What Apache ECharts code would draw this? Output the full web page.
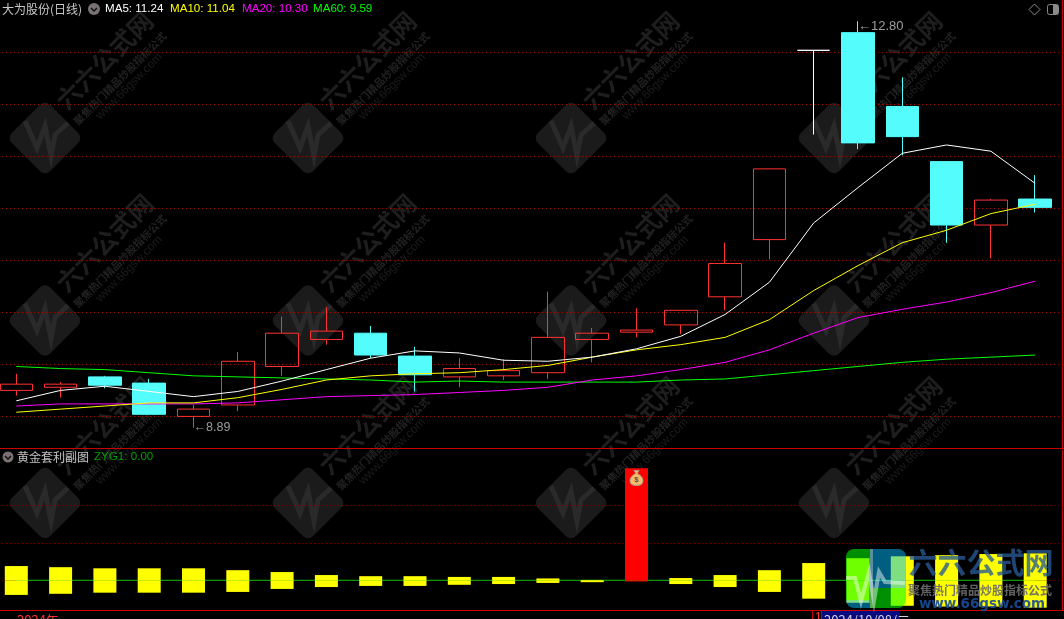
<!DOCTYPE html>
<html><head><meta charset="utf-8">
<style>html,body{margin:0;padding:0;background:#000;overflow:hidden}#c{width:1064px;height:619px}</style>
<script src="https://cdn.jsdelivr.net/npm/echarts@6/dist/echarts.min.js"></script>
</head><body><div id="c"></div>
<script>
// trading days shown; the trailing blank slot is only empty room at the right edge
const categories = ['09/02','09/03','09/04','09/05','09/06','09/09','09/10','09/11','09/12','09/13','09/18','09/19','09/20','09/23','09/24','09/25','09/26','09/27','09/30','10/08','10/09','10/10','10/11','10/14',''];
const opens  = [9.25,9.28,9.38,9.32,9.00,9.11,9.48,9.74,9.80,9.58,9.38,9.39,9.42,9.74,9.81,9.88,10.15,10.70,12.52,12.69,11.98,11.45,10.84,11.09];
const closes = [9.31,9.31,9.30,9.02,9.07,9.53,9.80,9.82,9.59,9.40,9.46,9.44,9.76,9.80,9.83,10.02,10.47,11.38,12.52,11.63,11.69,10.84,11.08,11.01];
const lows   = [9.20,9.18,9.27,9.02,8.89,9.05,9.39,9.69,9.56,9.24,9.28,9.35,9.36,9.52,9.76,9.79,10.02,10.51,11.71,11.57,11.51,10.67,10.52,10.96];
const highs  = [9.41,9.33,9.39,9.36,9.11,9.62,9.96,10.05,9.87,9.67,9.56,9.55,10.20,9.85,10.04,10.02,10.67,11.38,12.52,12.80,12.26,11.45,11.09,11.32];
const ma5    = [9.15,9.25,9.29,9.24,9.19,9.24,9.34,9.45,9.56,9.63,9.61,9.54,9.53,9.57,9.65,9.77,9.98,10.29,10.86,11.20,11.53,11.61,11.55,11.24];
const ma10   = [9.04,9.07,9.10,9.13,9.13,9.18,9.26,9.35,9.39,9.41,9.42,9.45,9.49,9.57,9.64,9.69,9.76,9.93,10.21,10.45,10.67,10.79,10.95,11.04];
const ma20   = [9.10,9.12,9.12,9.12,9.12,9.13,9.16,9.19,9.20,9.21,9.23,9.25,9.28,9.35,9.39,9.45,9.52,9.64,9.80,9.95,10.03,10.10,10.19,10.30];
const ma60   = [9.48,9.46,9.45,9.42,9.39,9.38,9.37,9.36,9.35,9.33,9.34,9.33,9.33,9.33,9.33,9.35,9.36,9.40,9.44,9.48,9.52,9.55,9.57,9.59];
const zyg1   = [0,0,0,0,0,0,0,0,0,0,0,0,0,0,0,0,0,0,0,0,0,0,0,0];
const subUp   = [0.38,0.35,0.32,0.32,0.32,0.27,0.22,0.14,0.11,0.11,0.09,0.09,0.05,0.01,2.99,0.06,0.14,0.27,0.46,0.59,0.64,0.67,0.70,0.72];
const subDown = [-0.39,-0.36,-0.33,-0.33,-0.33,-0.31,-0.23,-0.18,-0.15,-0.15,-0.12,-0.10,-0.07,-0.05,-0.03,-0.10,-0.18,-0.31,-0.49,-0.60,-0.68,-0.70,-0.70,-0.73];
const signalIndex = 14;
const signalValue = 2.73;
const dojiIndex = 18;
const lowIndex = 4, lowValue = 8.89, highIndex = 19, highValue = 12.80;
const legendItems = [['MA5: 11.24','#ffffff',105],['MA10: 11.04','#ffff00',170],['MA20: 10.30','#ff00ff',242],['MA60: 9.59','#00ff00',313]];
const wmCols = [45,308,571,834], wmRows = [138,320.5,503];

const RED='#ff3232', CYAN='#54fcfc';
const cjk='"Noto Sans CJK SC",sans-serif', lat='"Liberation Sans",Arial,sans-serif';
const chart=echarts.init(document.getElementById('c'),null,{renderer:'canvas'});

const candleData=opens.map((o,i)=>{
  const v=[o,closes[i],lows[i],highs[i]];
  if(i===dojiIndex) return {value:v,itemStyle:{color:'#fff',color0:'#fff',borderColor:'#fff',borderColor0:'#fff'}};
  return {value:v};
});
const barItem=(v,i)=>({value:v,itemStyle:{color:i===signalIndex?'#ff0000':'#ffff00'}});
const lineS=(name,data,color)=>({name,type:'line',data,xAxisIndex:0,yAxisIndex:0,symbol:'none',z:5,silent:true,
  lineStyle:{color,width:1},clip:false});

const g=[];
// watermark tiles
wmCols.forEach(cx=>wmRows.forEach(cy=>{
  g.push({type:'rect',x:cx,y:cy,rotation:Math.PI/4,z:-5,silent:true,shape:{x:-27,y:-27,width:54,height:54,r:7},style:{fill:'#1b1b1b'}});
  g.push({type:'polyline',x:cx,y:cy,z:-4,silent:true,shape:{points:[[-20,-17],[-8,10],[0,-12],[6,18],[10,-3],[23,-15]]},style:{stroke:'#2a2a2a',lineWidth:5,fill:null}});
  [['六六公式网',97,-13,'bold 25px '+cjk,'#1e1e1e'],['聚焦热门精品炒股指标公式',95,11,'bold 10.5px '+cjk,'#222222'],['www.66gsw.com',96,23,'12px '+lat,'#1c1c1c']].forEach(t=>{
    const a=-Math.PI/4;
    g.push({type:'text',x:cx+t[1]*Math.cos(a)-t[2]*Math.sin(a),y:cy+t[1]*Math.sin(a)+t[2]*Math.cos(a),rotation:Math.PI/4,z:-4,silent:true,
      style:{text:t[0],font:t[3],fill:t[4],align:'center',verticalAlign:'middle'}});
  });
}));
// frame lines
const ln=(x1,y1,x2,y2,c)=>g.push({type:'line',z:40,silent:true,shape:{x1,y1,x2,y2},style:{stroke:c,lineWidth:1}});
ln(0,448.5,1064,448.5,'#cc0000');
ln(0,610.5,1064,610.5,'#cc0000');
ln(1062.5,0,1062.5,611,'#cc0000');
ln(812.5,611,812.5,619,'#cc0000');
// header
const txt=(s,x,y,fill,font)=>g.push({type:'text',x,y,z:45,silent:true,style:{text:s,fill,font,align:'left',verticalAlign:'middle'}});
txt('大为股份(日线)',2,9,'#c8c8c8','12px '+cjk);
legendItems.forEach(l=>txt(l[0],l[2],9,l[1],'11.6px '+lat));
txt('黄金套利副图',17,457,'#c0c0c0','12px '+cjk);
txt('ZYG1: 0.00',94,457,'#00a000','11.6px '+lat);
const chev=(cx,cy,r)=>{
  g.push({type:'circle',z:45,silent:true,shape:{cx,cy,r},style:{fill:'#7a7272'}});
  g.push({type:'polyline',z:46,silent:true,shape:{points:[[cx-3,cy-1],[cx,cy+2],[cx+3,cy-1]]},style:{stroke:'#111',lineWidth:1.5,fill:null}});
};
chev(94,9,6); chev(8,457,5.5);
g.push({type:'polygon',z:45,silent:true,shape:{points:[[1034.5,4],[1040,9.5],[1034.5,15],[1029,9.5]]},style:{stroke:'#8a8a8a',fill:null,lineWidth:1}});
g.push({type:'rect',z:45,silent:true,shape:{x:1047.5,y:4.5,width:11,height:10,r:2},style:{stroke:'#8a8a8a',fill:null,lineWidth:1}});
g.push({type:'rect',z:45,silent:true,shape:{x:1053,y:5,width:5,height:9},style:{fill:'#8a8a8a'}});
// bottom time axis
txt('2024年',17,620,RED,'13px '+cjk);
txt('1',815,618,RED,'12px '+lat);
g.push({type:'rect',z:41,silent:true,shape:{x:822,y:611,width:78,height:10},style:{fill:'#0a0a80'}});
ln(821.5,611,821.5,619,'#cc0000');
ln(899.5,611,899.5,619,'#cc0000');
txt('2024/10/08/二',824,620,'#d0d0e0','13px '+cjk);
// site badge, bottom right
const BLUE='rgba(0,190,255,0.5)', GREEN='rgba(0,255,0,0.56)';
const badge=[[846,549,24,51,GREEN,[8,0,0,0]],[846,600,24,8,BLUE,[0,0,0,8]],[870,549,36,39,BLUE,[0,8,0,0]],[870,588,36,20,GREEN,[0,0,8,0]]];
badge.forEach(b=>g.push({type:'rect',z:60,silent:true,shape:{x:b[0],y:b[1],width:b[2],height:b[3],r:b[5]},style:{fill:b[4]}}));
g.push({type:'rect',z:61,silent:true,shape:{x:870,y:549,width:3,height:59},style:{fill:'rgba(200,200,200,0.45)'}});
g.push({type:'polyline',z:62,silent:true,shape:{points:[[846,578],[855,578],[861,601],[869,572],[874,601],[879,572],[885,582],[905,583]]},style:{stroke:'rgba(255,255,255,0.45)',lineWidth:4,fill:null}});
g.push({type:'text',x:981,y:563,z:63,silent:true,style:{text:'六六公式网',font:'bold 29px '+cjk,fill:'rgba(40,90,150,0.78)',align:'center',verticalAlign:'middle'}});
g.push({type:'text',x:980,y:590,z:63,silent:true,style:{text:'聚焦热门精品炒股指标公式',font:'bold 12px '+cjk,fill:'rgba(105,105,105,0.92)',align:'center',verticalAlign:'middle'}});
g.push({type:'text',x:982,y:604,z:63,silent:true,style:{text:'www.66gsw.com',font:'bold 13.5px "DejaVu Sans",sans-serif',fill:'rgba(25,75,150,0.92)',align:'center',verticalAlign:'middle'}});

const hiddenX=i=>({type:'category',gridIndex:i,data:categories,show:false,boundaryGap:true});
const yBase=(i,min,max,interval,color)=>({type:'value',gridIndex:i,min,max,interval,scale:false,
  axisLine:{show:false},axisTick:{show:false},axisLabel:{show:false},
  splitLine:{show:true,showMinLine:false,showMaxLine:false,lineStyle:{color,width:1,type:[1,3]}}});

chart.setOption({
  animation:false,backgroundColor:'#000000',
  tooltip:{show:false},
  grid:[
    {left:-5.85,top:0.4,width:1107.5,height:468,outerBoundsMode:'none',containLabel:false},
    {left:-5.85,top:467.8,width:1107.5,height:150,outerBoundsMode:'none',containLabel:false}
  ],
  xAxis:[hiddenX(0),hiddenX(1)],
  yAxis:[yBase(0,8.5,13,0.5,'#c80000'),yBase(1,-1,3,1,'#8a0000')],
  series:[
    {name:'K',type:'candlestick',xAxisIndex:0,yAxisIndex:0,data:candleData,barWidth:33,z:3,silent:true,clip:false,
     itemStyle:{color:'transparent',color0:CYAN,borderColor:RED,borderColor0:CYAN,borderWidth:1}},
    lineS('MA60',ma60,'#00ff00'),
    lineS('MA20',ma20,'#ff00ff'),
    lineS('MA10',ma10,'#ffff00'),
    lineS('MA5',ma5,'#ffffff'),
    {name:'extremes',type:'scatter',xAxisIndex:0,yAxisIndex:0,symbolSize:0,z:6,silent:true,clip:false,
     data:[
       {value:[lowIndex,lowValue],label:{show:true,position:'right',distance:0,formatter:'←'+lowValue.toFixed(2),color:'#c0c0c0',fontSize:12.5,fontFamily:lat}},
       {value:[highIndex,highValue],label:{show:true,position:'right',distance:0,offset:[0,5],formatter:'←'+highValue.toFixed(2),color:'#c0c0c0',fontSize:13,fontFamily:lat}}
     ]},
    {name:'ZYG1',type:'line',xAxisIndex:1,yAxisIndex:1,data:zyg1,symbol:'none',z:3,silent:true,lineStyle:{color:'#00c000',width:1}},
    {name:'subUp',type:'bar',xAxisIndex:1,yAxisIndex:1,stack:'sub',barWidth:23,z:4,silent:true,data:subUp.map(barItem)},
    {name:'subDown',type:'bar',xAxisIndex:1,yAxisIndex:1,stack:'sub',barWidth:23,z:4,silent:true,data:subDown.map(barItem)},
    {name:'signal',type:'scatter',xAxisIndex:1,yAxisIndex:1,z:6,silent:true,
     symbol:'path://M7 0 L13 0 L11 4 C16 7 18 10 18 13 C18 17 15 19 10 19 C5 19 2 17 2 13 C2 10 4 7 9 4 Z',
     symbolSize:[13,15],itemStyle:{color:'#f8ec80',borderColor:'#a0a0a0',borderWidth:1},
     label:{show:true,position:'inside',offset:[0,2],formatter:'$',color:'#333',fontSize:8,fontWeight:'bold',fontFamily:lat},
     data:[[signalIndex,signalValue]]}
  ],
  graphic:{elements:g}
});
</script></body></html>
